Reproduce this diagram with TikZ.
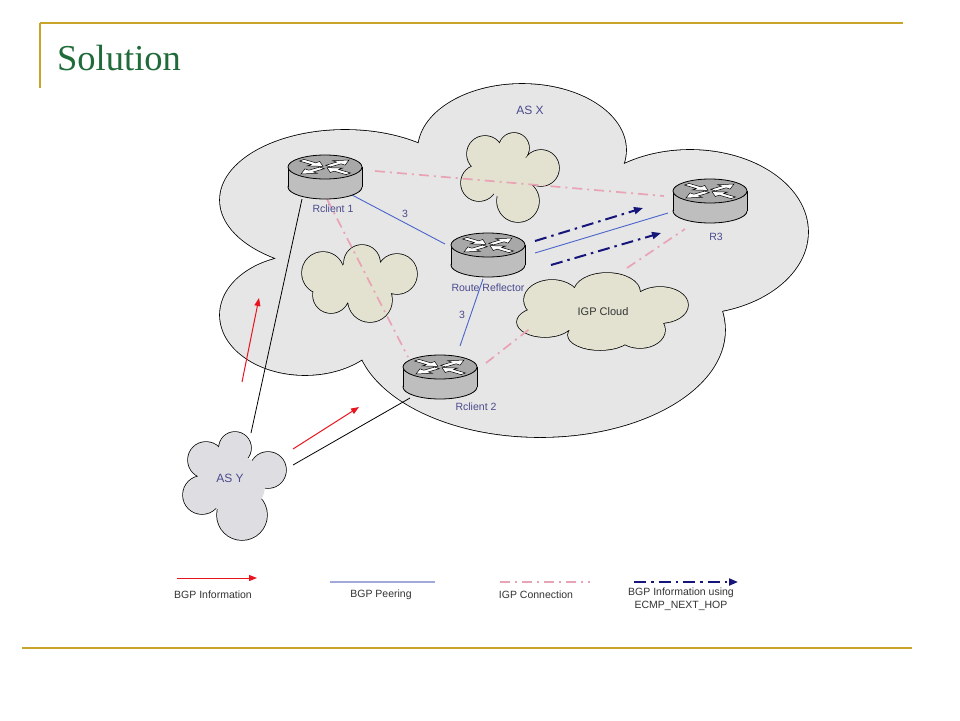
\documentclass[tikz,border=0pt]{standalone}
\usepackage{fontspec}
\setmainfont{Liberation Sans}
\newfontfamily\titlefont{Liberation Serif}
\usetikzlibrary{arrows.meta}
\definecolor{gold}{HTML}{C9A42A}
\definecolor{titlegreen}{HTML}{1F6B3A}
\definecolor{asxfill}{HTML}{E6E6E6}
\definecolor{beige}{HTML}{E3E2D0}
\definecolor{asyfill}{HTML}{DEDEE2}
\definecolor{rtop}{HTML}{A8A8A8}
\definecolor{rside}{HTML}{BEBEBE}
\definecolor{labelblue}{HTML}{4A4A8E}
\definecolor{peer}{HTML}{4A64CC}
\definecolor{peerlegend}{HTML}{A0A8DC}
\definecolor{igp}{HTML}{E8A3B5}
\definecolor{ecmp}{HTML}{15157A}
\definecolor{bgpred}{HTML}{E8141E}
\definecolor{textgray}{HTML}{333333}
\tikzset{
  rlabel/.style={text=labelblue, font=\fontsize{10.5}{12}\selectfont, inner sep=0pt},
  aslabel/.style={text=labelblue, font=\fontsize{12}{14}\selectfont, inner sep=0pt},
  leglabel/.style={text=textgray, font=\fontsize{10.5}{12.5}\selectfont, inner sep=0pt, align=center},
  routerbox/.style={inner sep=0pt, minimum width=76pt, minimum height=46pt},
  peerline/.style={draw=peer, line width=0.9pt},
  igpline/.style={draw=igp, line width=1.7pt, dash pattern=on 10pt off 5pt on 2pt off 5pt},
  ecmparrow/.style={draw=ecmp, line width=2pt, dash pattern=on 12pt off 5pt on 2.5pt off 5pt, -{Triangle[length=9pt,width=7pt]}},
  redarrow/.style={draw=bgpred, line width=1pt, -{Triangle[length=8pt,width=6pt]}},
  blackline/.style={draw=black, line width=0.8pt},
  asxshape/.style={insert path={
    (522,150) ellipse [x radius=104, y radius=66]
    (345,200) ellipse [x radius=125, y radius=70]
    (305,315) ellipse [x radius=85, y radius=60]
    (540,330) ellipse [x radius=185, y radius=107]
    (690,232) ellipse [x radius=118, y radius=82]}},
  topcloud/.style={insert path={
    (485,154) circle [radius=18] (514,148) circle [radius=15]
    (541,168) circle [radius=18] (518,201) circle [radius=21]
    (479,183) circle [radius=18]}},
  leftcloud/.style={insert path={
    (323,273) circle [radius=21] (362,263) circle [radius=18]
    (397,274) circle [radius=20] (370,300) circle [radius=22]
    (331,295) circle [radius=18]}},
  igpcloud/.style={insert path={
    (552,300) ellipse [x radius=28, y radius=20]
    (607,292) ellipse [x radius=33, y radius=19]
    (660,305) ellipse [x radius=28, y radius=18]
    (640,330) ellipse [x radius=25, y radius=18]
    (600,335) ellipse [x radius=32, y radius=15]
    (545,322) ellipse [x radius=28, y radius=15]}},
  asycloud/.style={insert path={
    (235,448) circle [radius=16] (206,460) circle [radius=18]
    (268,470) circle [radius=18] (202,495) circle [radius=19]
    (242,515) circle [radius=25]}},
}
\newcommand\routericon[1]{%
  \begin{scope}[shift={(#1)}]
    \filldraw[fill=rside, line width=0.8pt] (0,20) ellipse [x radius=37, y radius=12];
    \fill[rside] (-37,0) rectangle (37,20);
    \draw[line width=0.8pt] (-37,0) -- (-37,20) (37,0) -- (37,20);
    \filldraw[fill=rtop, line width=0.8pt] (0,0) ellipse [x radius=37, y radius=12];
    \begin{scope}[xscale=34, yscale=11]
      \foreach \a in {42,222}
        \filldraw[fill=white, line width=0.5pt, rotate=\a] (0.12,-0.1) -- (0.55,-0.1) -- (0.55,-0.27) -- (0.95,0) -- (0.55,0.27) -- (0.55,0.1) -- (0.12,0.1) -- cycle;
      \foreach \a in {138,318}
        \filldraw[fill=white, line width=0.5pt, rotate=\a] (0.08,0) -- (0.45,-0.27) -- (0.45,-0.1) -- (0.92,-0.1) -- (0.92,0.1) -- (0.45,0.1) -- (0.45,0.27) -- cycle;
    \end{scope}
  \end{scope}}
\begin{document}
\begin{tikzpicture}[x=1pt,y=-1pt]
\useasboundingbox (0,0) rectangle (960,720);
\fill[white] (0,0) rectangle (960,720);
% frame lines
\draw[gold, line width=2pt] (40,23) -- (903,23);
\draw[gold, line width=1.5pt] (40,23) -- (40,88);
\draw[gold, line width=2pt] (22,648) -- (912,648);
\node[anchor=base west, text=titlegreen, font=\titlefont\fontsize{36.5}{42}\selectfont, inner sep=0pt] (title) at (57,70) {Solution};
% AS X cloud
\draw[black, line width=1.6pt, asxshape];
\fill[asxfill, asxshape];
\fill[asxfill] (540,250) ellipse [x radius=170, y radius=95];
% small clouds
\draw[black, line width=1.5pt, topcloud];
\fill[beige, topcloud];
\fill[beige] (510,176) circle [radius=24];
\draw[black, line width=1.5pt, leftcloud];
\fill[beige, leftcloud];
\fill[beige] (360,282) circle [radius=24];
\draw[black, line width=1.5pt, igpcloud];
\fill[beige, igpcloud];
\fill[beige] (600,312) ellipse [x radius=55, y radius=22];
\draw[black, line width=1.5pt, asycloud];
\fill[asyfill, asycloud];
\fill[asyfill] (235,485) circle [radius=30];
% named nodes
\node[aslabel] (asx) at (530,110) {AS X};
\node[aslabel] (asy) at (230,478) {AS Y};
\node[text=textgray, font=\fontsize{11}{13}\selectfont, inner sep=0pt] (igp) at (603,312) {IGP Cloud};
\node[routerbox] (rc1) at (325,177) {};
\node[routerbox] (rr) at (488,255) {};
\node[routerbox] (r3) at (710,201) {};
\node[routerbox] (rc2) at (440,377) {};
% connector end points
\coordinate (rc1a) at (375,171);
\coordinate (r3a) at (664,196);
\coordinate (rc1b) at (327,199);
\coordinate (rc2b) at (408,357);
\coordinate (rc2c) at (486,363);
\coordinate (igpc) at (532,327);
\coordinate (igpd) at (627,268);
\coordinate (r3d) at (685,229);
\coordinate (rc1e) at (352,195);
\coordinate (rre) at (445,244);
\coordinate (rrf) at (535,253);
\coordinate (r3f) at (668,213);
\coordinate (rrg) at (483,279);
\coordinate (rc2g) at (460,346);
\coordinate (rrh) at (535,241);
\coordinate (r3h) at (643,208);
\coordinate (rri) at (551,265);
\coordinate (r3i) at (661,233);
\coordinate (asya) at (251,433);
\coordinate (rc1j) at (302,199);
\coordinate (asyb) at (293,465);
\coordinate (rc2k) at (410,398);
\coordinate (reda1) at (242,382);
\coordinate (reda2) at (259,298);
\coordinate (redb1) at (293,449);
\coordinate (redb2) at (359,407);
% IGP connections
\draw[igpline] (rc1a) -- (r3a);
\draw[igpline] (rc1b) -- (rc2b);
\draw[igpline] (rc2c) -- (igpc);
\draw[igpline] (igpd) -- (r3d);
% BGP peering
\draw[peerline] (rc1e) -- (rre);
\draw[peerline] (rrf) -- (r3f);
\draw[peerline] (rrg) -- (rc2g);
% ECMP arrows
\draw[ecmparrow] (rrh) -- (r3h);
\draw[ecmparrow] (rri) -- (r3i);
% eBGP lines
\draw[blackline] (asya) -- (rc1j);
\draw[blackline] (asyb) -- (rc2k);
\draw[redarrow] (reda1) -- (reda2);
\draw[redarrow] (redb1) -- (redb2);
% routers
\routericon{325,167}
\routericon{488,245}
\routericon{710,191}
\routericon{440,367}
% labels
\node[rlabel] (lrc1) at (333,209) {Rclient 1};
\node[rlabel] (l3a) at (405,214) {3};
\node[rlabel] (lrr) at (488,288) {Route Reflector};
\node[rlabel] (l3b) at (462,315) {3};
\node[rlabel] (lr3) at (716,237) {R3};
\node[rlabel] (lrc2) at (476,407) {Rclient 2};
% legend
\coordinate (lg1a) at (177,578); \coordinate (lg1b) at (257,578);
\coordinate (lg2a) at (330,582); \coordinate (lg2b) at (435,582);
\coordinate (lg3a) at (500,582); \coordinate (lg3b) at (590,582);
\coordinate (lg4a) at (634,582); \coordinate (lg4b) at (738,582);
\draw[redarrow] (lg1a) -- (lg1b);
\draw[draw=peerlegend, line width=2pt] (lg2a) -- (lg2b);
\draw[igpline] (lg3a) -- (lg3b);
\draw[ecmparrow] (lg4a) -- (lg4b);
\node[leglabel] (t1) at (213,595) {BGP Information};
\node[leglabel] (t2) at (381,595) {BGP Peering};
\node[leglabel] (t3) at (536,595) {IGP Connection};
\node[leglabel] (t4) at (681,599) {BGP Information using\\ECMP\_NEXT\_HOP};
\end{tikzpicture}
\end{document}
